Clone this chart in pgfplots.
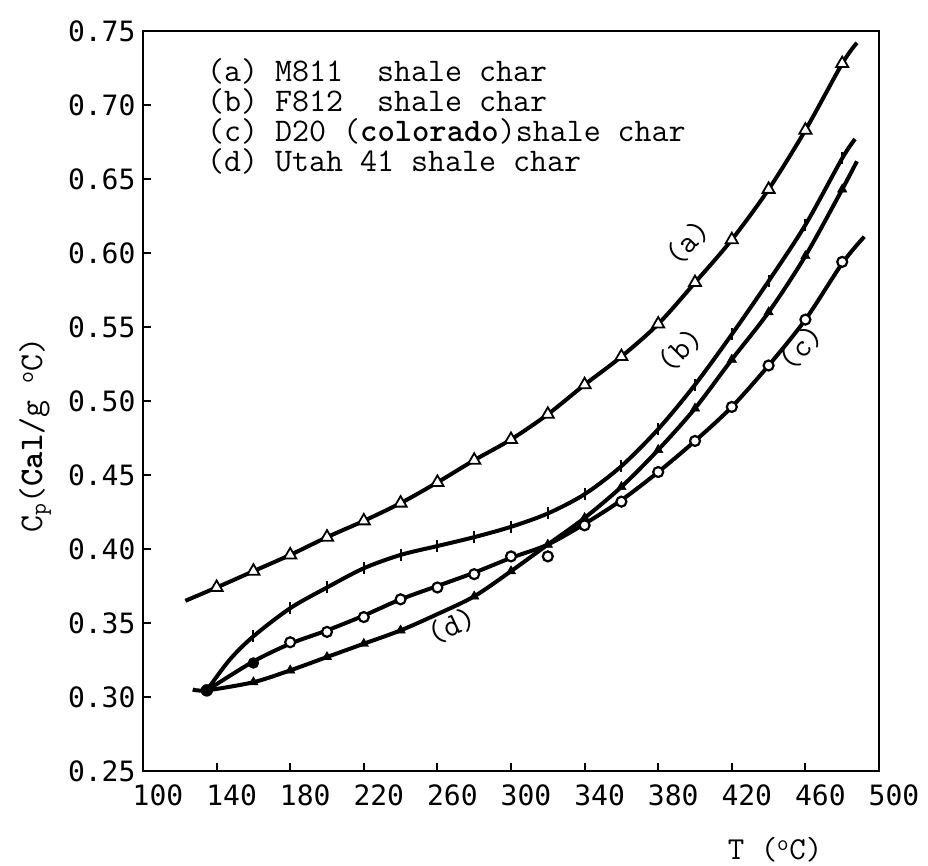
\documentclass[border=0pt]{standalone}
\usepackage{fontspec}
\usepackage{pgfplots}
\pgfplotsset{compat=1.18}
\newfontfamily\tickfont{DejaVu Sans Mono}
\begin{document}
\begin{tikzpicture}
\begin{axis}[
  scale only axis, width=736pt, height=740pt,
  xmin=100, xmax=500, ymin=0.25, ymax=0.75,
  xtick={100,140,180,220,260,300,340,380,420,460,500},
  xticklabels={100,140,180,220,260,300,340,380,420,460,500},
  ytick={0.25,0.30,0.35,0.40,0.45,0.50,0.55,0.60,0.65,0.70,0.75},
  yticklabels={0.25,0.30,0.35,0.40,0.45,0.50,0.55,0.60,0.65,0.70,0.75},
  xtick pos=lower, ytick pos=left,
  tick align=inside, major tick length=8pt,
  every tick/.style={black, line width=2pt},
  axis line style={line width=2.4pt},
  /pgf/number format/assume math mode=true,
  ticklabel style={font=\tickfont\fontsize{28}{28}\selectfont},
  xticklabel style={xshift=15pt, yshift=-10pt},
  yticklabel style={xshift=-4pt},
  clip=false,
]
% (a) M811
\addplot[line width=4pt, smooth] coordinates {
(123,0.365)(140,0.374)(160,0.385)(180,0.396)(200,0.408)(220,0.419)(240,0.431)
(260,0.445)(280,0.460)(300,0.474)(320,0.491)(340,0.511)(360,0.530)(380,0.552)
(400,0.580)(420,0.609)(440,0.643)(460,0.683)(480,0.728)(488,0.742)};
\addplot[only marks, mark=triangle*, mark size=7pt, mark options={fill=white, draw=black, line width=1.8pt}] coordinates {
(140,0.374)(160,0.385)(180,0.396)(200,0.408)(220,0.419)(240,0.431)
(260,0.445)(280,0.460)(300,0.474)(320,0.491)(340,0.511)(360,0.530)(380,0.552)
(400,0.580)(420,0.609)(440,0.643)(460,0.683)(480,0.728)};
% (b) F812
\addplot[line width=4pt, smooth] coordinates {
(134.7,0.3045)(147,0.325)(160,0.341)(180,0.360)(200,0.374)(220,0.387)(240,0.396)
(260,0.402)(280,0.408)(300,0.415)(320,0.424)(340,0.437)(360,0.456)(380,0.481)
(400,0.511)(420,0.545)(440,0.581)(460,0.619)(480,0.664)(487,0.677)};
\addplot[only marks, mark=|, mark size=6pt, mark options={line width=2pt}] coordinates {
(160,0.341)(180,0.360)(200,0.374)(220,0.387)(240,0.396)
(260,0.402)(280,0.408)(300,0.415)(320,0.424)(340,0.437)(360,0.456)(380,0.481)
(400,0.511)(420,0.545)(440,0.581)(460,0.619)(480,0.664)};
% (c) D20
\addplot[line width=4pt, smooth] coordinates {
(134.7,0.3045)(160,0.324)(180,0.336)(200,0.345)(220,0.355)(240,0.366)(260,0.375)
(280,0.384)(300,0.394)(320,0.403)(340,0.417)(360,0.433)(380,0.452)(400,0.473)
(420,0.496)(440,0.524)(460,0.555)(480,0.593)(492,0.611)};
\addplot[only marks, mark=*, mark size=5pt, mark options={fill=white, draw=black, line width=2.2pt}] coordinates {
(180,0.337)(200,0.344)(220,0.354)(240,0.366)(260,0.374)(280,0.383)(300,0.395)
(320,0.395)(340,0.416)(360,0.432)(380,0.452)(400,0.473)(420,0.496)(440,0.524)
(460,0.555)(480,0.594)};
\addplot[only marks, mark=*, mark size=5.5pt] coordinates {(160,0.323)};
% (d) Utah 41
\addplot[line width=4pt, smooth] coordinates {
(127,0.305)(134.7,0.3045)(160,0.310)(180,0.318)(200,0.327)(220,0.336)(240,0.345)
(260,0.356)(280,0.368)(300,0.385)(320,0.403)(340,0.421)(360,0.442)(380,0.467)
(400,0.495)(420,0.528)(440,0.560)(460,0.598)(480,0.643)(488,0.662)};
\addplot[only marks, mark=triangle*, mark size=5.5pt] coordinates {
(160,0.310)(180,0.318)(200,0.327)(220,0.336)(240,0.345)(280,0.368)(300,0.385)
(320,0.403)(340,0.421)(360,0.442)(380,0.467)(400,0.495)(420,0.528)(440,0.560)
(460,0.598)(480,0.643)};
% common starting point
\addplot[only marks, mark=*, mark size=6pt] coordinates {(134.7,0.3045)};
% legend text
\node[anchor=north west, align=left, inner sep=0pt, font=\ttfamily\fontsize{33}{30}\selectfont]
  at (rel axis cs:0.087,0.9635)
  {(a) M811~ shale char\\(b) F812~ shale char\\(c) D20 (\textbf{colorado})shale char\\(d) Utah 41 shale char};
% curve labels
\node[rotate=45, font=\ttfamily\fontsize{32}{32}\selectfont] at (axis cs:396,0.607) {(a)};
\node[rotate=45, font=\ttfamily\fontsize{32}{32}\selectfont] at (axis cs:392,0.5345) {(b)};
\node[rotate=45, font=\ttfamily\fontsize{32}{32}\selectfont] at (axis cs:457.6,0.536) {(c)};
\node[rotate=25, font=\ttfamily\fontsize{32}{32}\selectfont] at (axis cs:268,0.348) {(d)};
% axis labels
\node[font=\ttfamily\fontsize{32}{32}\selectfont] at (rel axis cs:0.8587,-0.1068) {T (\textsuperscript{o}C)};
\node[rotate=90, font=\ttfamily\fontsize{33}{33}\selectfont] at (rel axis cs:-0.1467,0.454)
  {C\textsubscript{p}(\textbf{Cal}/g \textsuperscript{o}C)};
\end{axis}
\path (current axis.south west) ++(-143pt,-93pt) rectangle ++(928pt,864pt);
\end{tikzpicture}
\end{document}
